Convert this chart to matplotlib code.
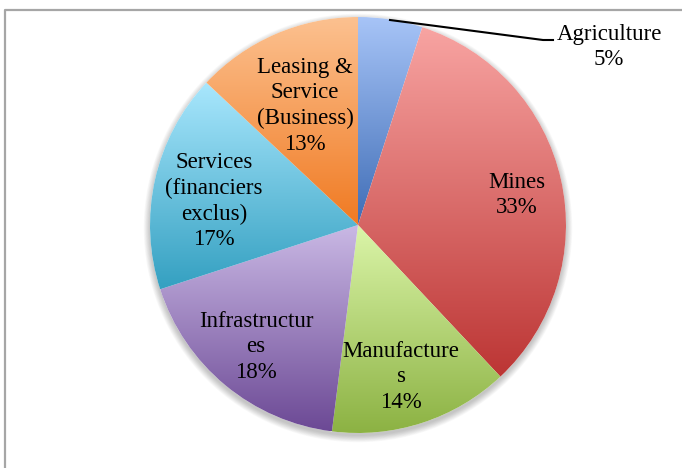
import numpy as np
import matplotlib.pyplot as plt
from matplotlib.colors import LinearSegmentedColormap
from matplotlib.patches import Circle
from matplotlib.lines import Line2D

sectors = ['Agriculture', 'Mines', 'Manufactures', 'Infrastructures',
           'Services (financiers exclus)', 'Leasing & Service (Business)']
shares = [5, 33, 14, 18, 17, 13]
# label text as wrapped in the chart, without the percentage line
label_names = ['Agriculture', 'Mines', 'Manufacture\ns', 'Infrastructur\nes',
               'Services\n(financiers\nexclus)', 'Leasing &\nService\n(Business)']
# (top, bottom) colours of each slice gradient
grad_colors = [('#a7c4f7', '#3f6db6'),
               ('#f8a4a2', '#bc3534'),
               ('#dbf5a9', '#8cb243'),
               ('#cab9e5', '#6c4995'),
               ('#a9e7fd', '#34a0c1'),
               ('#fcc190', '#f07a22')]

W, H = 682, 468
cx, cy, R = 358, H - 225, 208

fig = plt.figure(figsize=(W / 100, H / 100), dpi=100)
ax = fig.add_axes([0, 0, 1, 1])
plt.rcParams['font.family'] = ['Liberation Serif', 'DejaVu Serif']

# soft drop shadow under the pie
for i in range(10):
    ax.add_patch(Circle((cx, cy - 3), R + 0.7 * i, color='black', alpha=0.025,
                        lw=0, zorder=0))
ax.add_patch(Circle((cx, cy), R, color='white', lw=0, zorder=0.5))

wedges, _ = ax.pie(shares, startangle=90, counterclock=False,
                   center=(cx, cy), radius=R)

# vertical gradient clipped to each slice
for w, (c_top, c_bot) in zip(wedges, grad_colors):
    w.set_facecolor('none')
    w.set_edgecolor('none')
    t = np.radians(np.linspace(w.theta1, w.theta2, 200))
    ys = np.concatenate([[cy], cy + R * np.sin(t)])
    xs = np.concatenate([[cx], cx + R * np.cos(t)])
    cmap = LinearSegmentedColormap.from_list('g', [c_bot, c_top])
    grad = np.linspace(0, 1, 256).reshape(-1, 1)
    im = ax.imshow(grad, cmap=cmap, origin='lower', aspect='auto',
                   extent=[xs.min(), xs.max(), ys.min(), ys.max()], zorder=1)
    im.set_clip_path(w)

fs = 16.5
label_pos = [None, (517, 195), (401, 377), (256, 347), (214, 201), (305, 106)]
for name, v, pos in zip(label_names, shares, label_pos):
    if pos is None:
        continue
    ax.text(pos[0], H - pos[1], f'{name}\n{v}%', ha='center', va='center',
            multialignment='center', fontsize=fs, linespacing=1.3, zorder=3)

# Agriculture sits outside with a leader line
ax.plot([390, 543, 553], [H - 20, H - 40, H - 40], color='black', lw=1.5, zorder=3)
ax.text(609, H - 47, f'{label_names[0]}\n{shares[0]}%', ha='center', va='center',
        multialignment='center', fontsize=fs, linespacing=1.3, zorder=3)

ax.set_xlim(0, W)
ax.set_ylim(0, H)
ax.set_aspect('auto')
ax.axis('off')

# chart area border, cut off at the right and bottom
fig.add_artist(Line2D([5 / W, 5 / W, 1.01], [-0.01, 1 - 9.5 / H, 1 - 9.5 / H],
                      transform=fig.transFigure, color='#a6a6a6', lw=1.6))

fig.savefig('out.png', dpi=100)
